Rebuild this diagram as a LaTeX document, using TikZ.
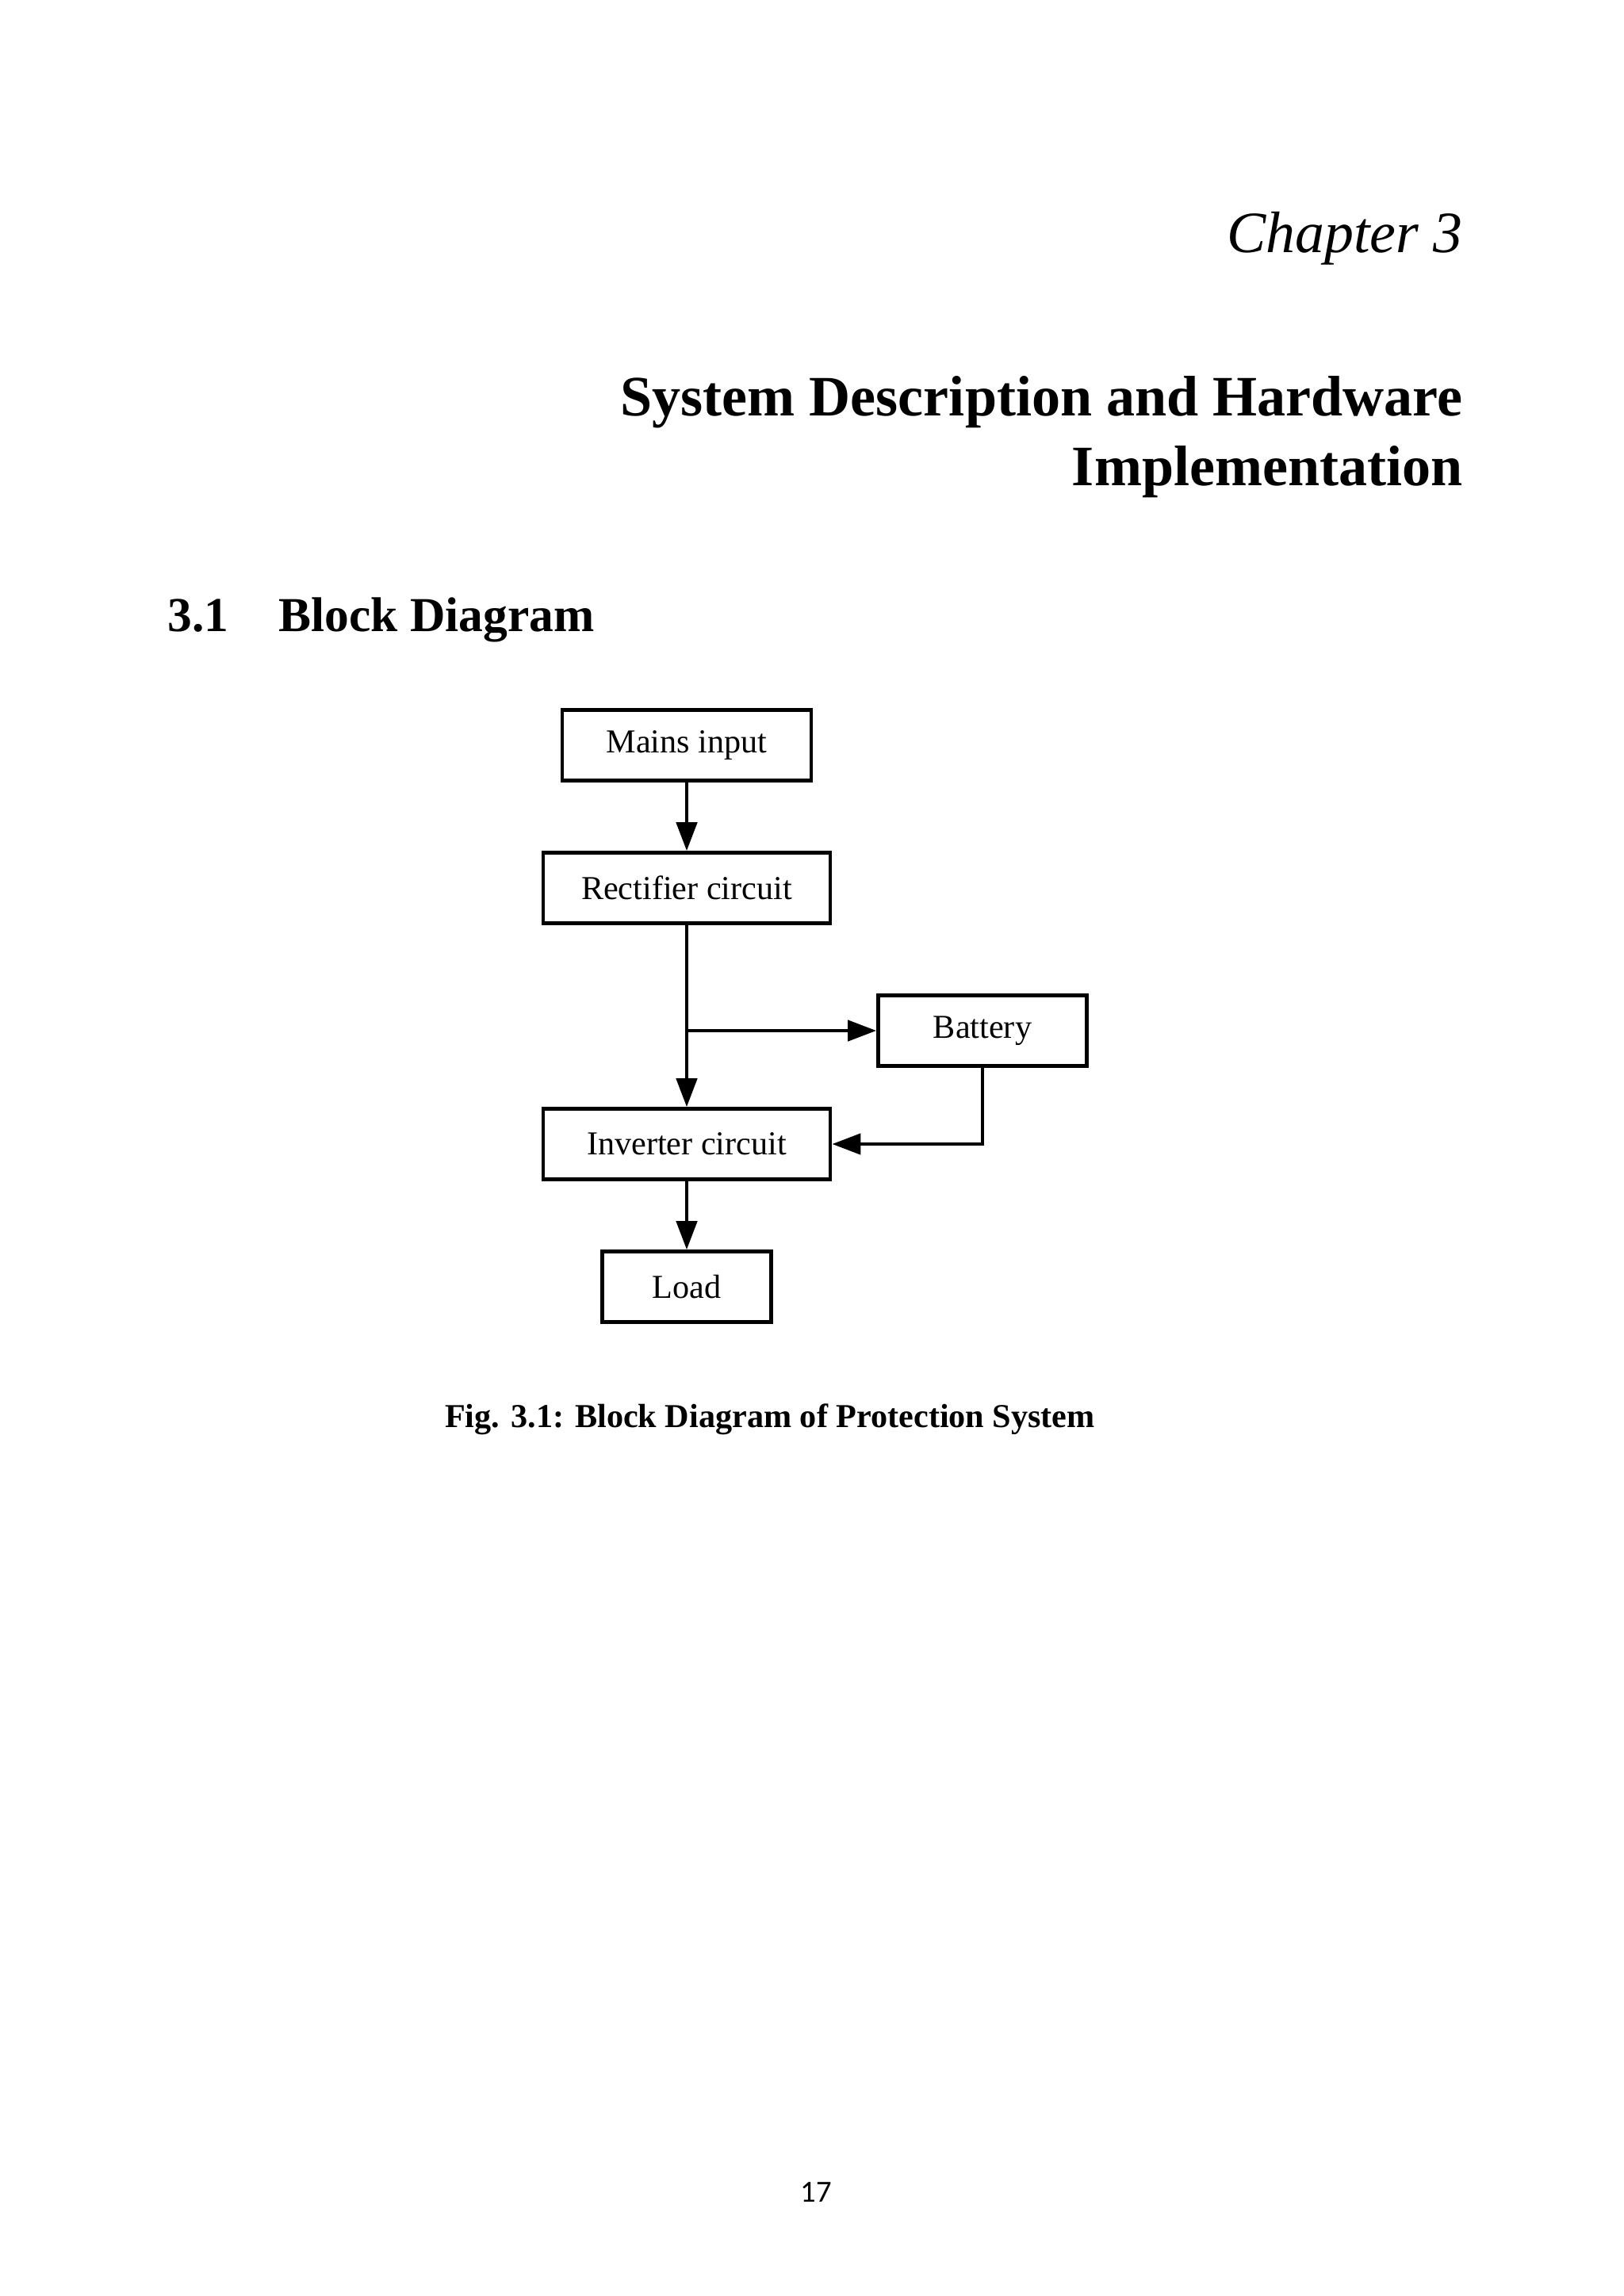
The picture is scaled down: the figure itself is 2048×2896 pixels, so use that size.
\documentclass[tikz,border=0pt]{standalone}
\usepackage{fontspec}
\setmainfont{Liberation Serif}
\newfontfamily\pagenumfont{Carlito}
\usetikzlibrary{arrows.meta}
\begin{document}
\begin{tikzpicture}[x=0.01cm,y=-0.01cm,
  blk/.style={draw,line width=1.3pt,minimum height=0.89cm,inner sep=0pt,font=\fontsize{12}{14}\selectfont},
  conn/.style={line width=1.3pt,-{Triangle[length=0.36cm,width=0.26cm]}}]
\useasboundingbox (0,0) rectangle (2048,2896);
\node[anchor=base east,font=\fontsize{21}{25}\selectfont\itshape] (ch) at (1857,318) {Chapter 3};
\node[anchor=base east,font=\fontsize{20.5}{24}\selectfont\bfseries] (t1) at (1857,524) {System Description and Hardware};
\node[anchor=base east,font=\fontsize{20.5}{24}\selectfont\bfseries] (t2) at (1857,612) {Implementation};
\node[anchor=base west,font=\fontsize{17.5}{21}\selectfont\bfseries] (sn) at (199,796) {3.1};
\node[anchor=base west,font=\fontsize{17.5}{21}\selectfont\bfseries] (st) at (339,796) {Block Diagram};

\node[blk,minimum width=3.14cm] (mains) at (866,940) {Mains input};
\node[blk,minimum width=3.62cm] (rect) at (866,1120) {Rectifier circuit};
\node[blk,minimum width=2.63cm] (bat) at (1239,1300) {Battery};
\node[blk,minimum width=3.62cm] (inv) at (866,1443) {Inverter circuit};
\node[blk,minimum width=2.13cm] (load) at (866,1623) {Load};
\coordinate (br) at (866,1300);
\coordinate (bc) at (1239,1443);

\draw[conn] (mains) -- (rect);
\draw[conn] (rect) -- (inv);
\draw[conn] (br) -- (bat);
\draw[conn] (bat.south) -- (bc) -- (inv.east);
\draw[conn] (inv) -- (load);

\node[anchor=base,font=\fontsize{12}{14}\selectfont\bfseries] (cap) at (971,1800) {Fig. 3.1: Block Diagram of Protection System};
\node[anchor=base,font=\fontsize{11}{13}\selectfont\pagenumfont] (pg) at (1029,2777) {17};
\end{tikzpicture}
\end{document}
